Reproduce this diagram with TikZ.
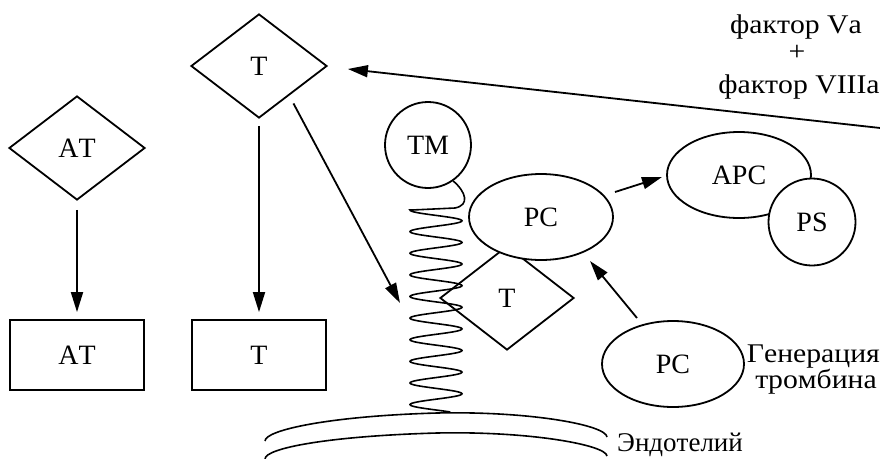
\documentclass[tikz,border=0pt]{standalone}
\usepackage{fontspec}
\setmainfont{Liberation Serif}[Kerning=Off]
\newfontfamily\midfont{Liberation Serif}[FakeStretch=1.1,Kerning=Off]
\usetikzlibrary{shapes.geometric,arrows.meta,calc}

\begin{document}
\begin{tikzpicture}[x=1pt,y=-1pt,
  every node/.style={font=\fontsize{28}{32}\selectfont},
  rhomb/.style={draw,line width=1.8pt,diamond,inner sep=0pt,minimum width=136pt,minimum height=104pt},
  box/.style={draw,line width=1.8pt,rectangle,inner sep=0pt,minimum width=134pt,minimum height=70pt},
  disc/.style={draw,line width=1.8pt,circle,inner sep=0pt,minimum size=86pt,fill=white},
  oval/.style={draw,line width=1.8pt,ellipse,inner sep=0pt,minimum width=144pt,minimum height=86pt,fill=white},
  arr/.style={line width=1.8pt,-{Triangle[length=20pt,width=12pt]}},
  sidetext/.style={font=\fontsize{27}{30}\selectfont\midfont,inner sep=0pt},
  wire/.style={line width=1.6pt},
]
\useasboundingbox (0,0) rectangle (880,458);

% antithrombin and thrombin, free and bound
\node[rhomb] (dAT) at (77,148) {AT};
\node[rhomb] (dT) at (259,66) {T};
\node[box] (bAT) at (77,355) {AT};
\node[box] (bT) at (259,355) {T};
\draw[arr,shorten <=9pt,shorten >=7pt] (dAT) -- (bAT);
\draw[arr,shorten <=7pt,shorten >=7pt] (dT) -- (bT);

% endothelial membrane
\draw[wire] (265,441) .. controls (265,430) and (330,416) .. (437,413)
  .. controls (530,411) and (606,425) .. (607,437);
\draw[wire] (265,459) .. controls (265,448) and (330,436) .. (437,433)
  .. controls (530,431) and (606,445) .. (607,456);

% thrombomodulin anchored in the membrane
\node[disc] (TM) at (428,145) {TM};
\draw[wire] (TM.-55) .. controls (466,192) and (470,205) .. (455,208) -- (412,210)
  -- plot[domain=0:202,samples=300] ({436-26*cos(16.651*\x)},{210+\x});
\coordinate (sp) at (400,303);
\draw[arr] ($(dT.south east)+(0,11)$) -- (sp);

% thrombin bound to thrombomodulin, protein C
\node[rhomb,minimum width=134pt] (dT2) at (507,298) {T};
\node[oval] (PC) at (541,217) {PC};

% activated protein C with protein S
\node[oval] (APC) at (739,175) {APC};
\node[disc,minimum size=87pt] (PS) at (812,222) {PS};
\draw[arr] ($(PC)+(74,-25)$) -- ($(APC)+(-77,2)$);

\node[oval,minimum width=142pt] (PC2) at (673,364) {PC};
\draw[arr] ($(PC2)+(-36,-46)$) -- ($(PC)+(49,44)$);

% factor Va + factor VIIIa inhibition
\coordinate (fv) at (882,128.2);
\draw[arr] (fv) -- ($(dT.east)+(20,3)$);
\node[sidetext,anchor=base] (facA) at (796,33) {фактор Va};
\node[sidetext,anchor=base] (plus) at (797,60) {+};
\node[sidetext,anchor=base] (facB) at (799,93) {фактор VIIIa};

\node[sidetext,anchor=base east] (genA) at (880,362) {Генерация};
\node[sidetext,anchor=base east] (genB) at (877,388) {тромбина};
\node[sidetext,anchor=base west,font=\fontsize{27}{30}\selectfont\rmfamily] (endo) at (617,451) {Эндотелий};
\end{tikzpicture}
\end{document}
